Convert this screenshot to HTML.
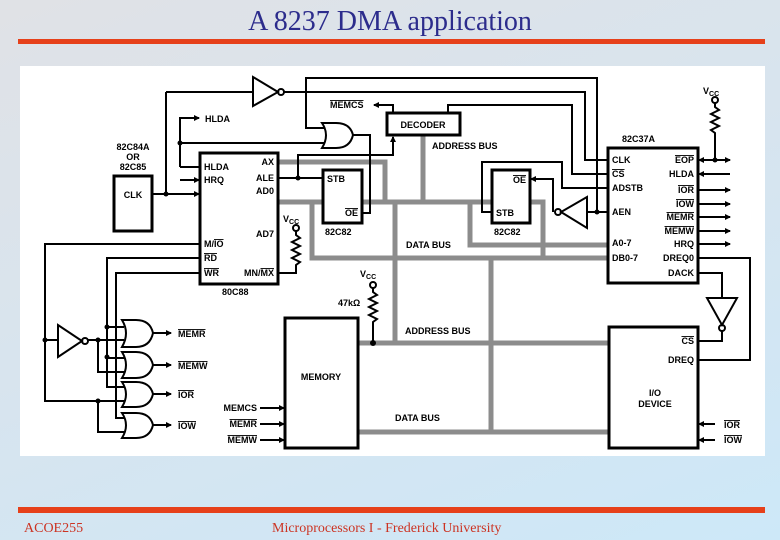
<!DOCTYPE html>
<html><head><meta charset="utf-8"><style>
html,body{margin:0;padding:0}
body{width:780px;height:540px;overflow:hidden;background:linear-gradient(160deg,#e0e2e6 0%,#d8e4ee 45%,#cde8f8 100%);position:relative;font-family:"Liberation Serif",serif}
.t{position:absolute;left:0;width:780px;top:6px;text-align:center;font-size:28px;line-height:32px;color:#2c2c8c}
.bar{position:absolute;background:#e6401a;left:18px;width:747px}
.f{position:absolute;top:521px;font-size:14px;color:#cc3322}
svg{position:absolute;left:0;top:0}
text{font-family:"Liberation Sans",sans-serif;font-weight:bold;font-size:9px;fill:#000}
.ov{text-decoration:overline}
</style></head><body>
<div class="t">A 8237 DMA application</div>
<div class="bar" style="top:39px;height:5px"></div>
<div class="bar" style="top:507px;height:6px"></div>
<div class="f" style="left:24px">ACOE255</div>
<div class="f" style="left:272px">Microprocessors I - Frederick University</div>
<svg width="780" height="540" viewBox="0 0 780 540">
<defs><marker id="a" markerWidth="6" markerHeight="6" refX="5" refY="3" orient="auto" markerUnits="userSpaceOnUse"><path d="M0,0 L6,3 L0,6 Z" fill="#000"/></marker></defs>
<rect x="20" y="66" width="745" height="390" fill="#fff"/>
<g fill="none" stroke="#8c8c8c" stroke-width="5">
<path d="M278,162 H385 V202"/><path d="M278,202 H543 V258"/><path d="M312,202 V258 H608"/>
<path d="M395,202 V343"/><path d="M423,135 V202"/><path d="M470,202 V245 H608"/>
<path d="M358,343 H608"/><path d="M491,258 V432"/><path d="M358,432 H608"/>
</g>
<g fill="none" stroke="#000" stroke-width="2">
<path d="M166,92 H253"/><path d="M166,92 V194"/><path d="M152,194 H199" marker-end="url(#a)"/>
<path d="M284,92 H585 V160 H608"/>
<path d="M325,128 H306 V78 H597 V212"/>
<path d="M448,113 V105 H572 V174 H608"/>
<path d="M393,113 V105 H374" marker-end="url(#a)"/>
<path d="M278,178 H323"/><path d="M298,178 V155 H393 V137" marker-end="url(#a)"/>
<path d="M180,167 V118 H199" marker-end="url(#a)"/><path d="M180,167 H200"/><path d="M180,143 H326"/>
<path d="M180,180 H199" marker-end="url(#a)"/>
<path d="M353,135 H370 V213 H362"/>
<path d="M492,212 H482 V162 H562 V188 H608"/>
<path d="M553,212 V179 H531" marker-end="url(#a)"/>
<path d="M587,212 H608"/>
<path d="M296,231 V235 l4,3 -8,4 8,4 -8,4 8,4 -8,4 8,4 -4,3 V273 H278"/>
<path d="M373,288 V292 l4,3 -8,4 8,4 -8,4 8,4 -8,4 8,4 -4,3 V343"/>
<path d="M715,103 V107 l4,3 -8,4 8,4 -8,4 8,4 -8,4 4,3 V160"/>
<path d="M710,160 H730" marker-end="url(#a)"/><path d="M715,160 H699" marker-end="url(#a)"/>
<path d="M730,174 H699" marker-end="url(#a)"/>
<path d="M698,190 H730" marker-end="url(#a)"/><path d="M698,204 H730" marker-end="url(#a)"/>
<path d="M698,217 H730" marker-end="url(#a)"/><path d="M698,231 H730" marker-end="url(#a)"/>
<path d="M698,244 H730" marker-end="url(#a)"/>
<path d="M698,258 H750 V360 H698"/>
<path d="M698,273 H722 V298"/><path d="M722,331 V341 H698"/>
<path d="M715,424 H699" marker-end="url(#a)"/><path d="M715,440 H699" marker-end="url(#a)"/>
<path d="M260,408 H284" marker-end="url(#a)"/><path d="M260,424 H284" marker-end="url(#a)"/><path d="M260,440 H284" marker-end="url(#a)"/>
<path d="M200,244 H45 V401 H124"/><path d="M45,340 H58"/>
<path d="M88,340 H124"/><path d="M98,340 V372 H124"/><path d="M98,401 V432 H124"/>
<path d="M200,258 H107 V387 H124"/><path d="M107,327 H124"/><path d="M107,358 H124"/>
<path d="M200,273 H116 V418 H124"/>
<path d="M153,333 H171" marker-end="url(#a)"/><path d="M153,365 H171" marker-end="url(#a)"/>
<path d="M153,394 H171" marker-end="url(#a)"/><path d="M153,425 H171" marker-end="url(#a)"/>
<path d="M253,77 L253,106 L278,92 Z"/><circle cx="281" cy="92" r="3"/>
<path d="M587,197 L587,228 L561,212 Z"/><circle cx="558" cy="212" r="3"/>
<path d="M707,298 L737,298 L722,325 Z"/><circle cx="722" cy="328" r="3"/>
<path d="M58,325 L58,357 L82,341 Z"/><circle cx="85" cy="341" r="3"/>
<path d="M322,123 L336,123 Q350,123 353,135 Q350,148 336,148 L322,148 Q330,135 322,123 Z" fill="#fff"/>
<path d="M122,320 L136,320 Q150,320 153,333 Q150,347 136,347 L122,347 Q130,333 122,320 Z" fill="#fff"/>
<path d="M122,352 L136,352 Q150,352 153,365 Q150,378 136,378 L122,378 Q130,365 122,352 Z" fill="#fff"/>
<path d="M122,382 L136,382 Q150,382 153,394 Q150,407 136,407 L122,407 Q130,394 122,382 Z" fill="#fff"/>
<path d="M122,413 L136,413 Q150,413 153,425 Q150,438 136,438 L122,438 Q130,425 122,413 Z" fill="#fff"/>
<circle cx="296" cy="228" r="3" fill="#fff"/><circle cx="373" cy="285" r="3" fill="#fff"/><circle cx="715" cy="100" r="3" fill="#fff"/>
</g>
<g fill="#000">
<circle cx="166" cy="194" r="2.5"/><circle cx="180" cy="143" r="2.5"/><circle cx="298" cy="178" r="2.5"/>
<circle cx="597" cy="212" r="2.5"/><circle cx="715" cy="160" r="2.5"/><circle cx="373" cy="343" r="3"/>
<circle cx="45" cy="340" r="2.5"/><circle cx="98" cy="340" r="2.5"/><circle cx="98" cy="401" r="2.5"/>
<circle cx="107" cy="327" r="2.5"/><circle cx="107" cy="357" r="2.5"/>
<circle cx="265" cy="203" r="1.5"/><circle cx="265" cy="211" r="1.5"/><circle cx="265" cy="219" r="1.5"/>
</g>
<g fill="#fff" stroke="#000" stroke-width="3">
<rect x="200" y="153" width="78" height="131"/>
<rect x="114" y="176" width="38" height="55"/>
<rect x="387" y="113" width="73" height="22"/>
<rect x="323" y="170" width="39" height="53"/>
<rect x="492" y="170" width="38" height="53"/>
<rect x="608" y="148" width="90" height="135"/>
<rect x="285" y="318" width="73" height="130"/>
<rect x="609" y="327" width="89" height="121"/>
</g>
<text x="133" y="150" text-anchor="middle">82C84A</text>
<text x="133" y="160" text-anchor="middle">OR</text>
<text x="133" y="170" text-anchor="middle">82C85</text>
<text x="133" y="198" text-anchor="middle">CLK</text>
<text x="205" y="122">HLDA</text>
<text x="330" y="108"><tspan class="ov">MEMCS</tspan></text>
<text x="423" y="128" text-anchor="middle">DECODER</text>
<text x="432" y="149">ADDRESS BUS</text>
<text x="204" y="170">HLDA</text><text x="204" y="183">HRQ</text>
<text x="274" y="165" text-anchor="end">AX</text><text x="274" y="181" text-anchor="end">ALE</text>
<text x="274" y="194" text-anchor="end">AD0</text><text x="274" y="237" text-anchor="end">AD7</text>
<text x="204" y="247">M/<tspan class="ov">IO</tspan></text>
<text x="204" y="261"><tspan class="ov">RD</tspan></text>
<text x="204" y="276"><tspan class="ov">WR</tspan></text>
<text x="274" y="276" text-anchor="end">MN/<tspan class="ov">MX</tspan></text>
<text x="222" y="295">80C88</text>
<text x="327" y="182">STB</text><text x="358" y="216" text-anchor="end"><tspan class="ov">OE</tspan></text>
<text x="325" y="235">82C82</text>
<text x="526" y="183" text-anchor="end"><tspan class="ov">OE</tspan></text><text x="496" y="216">STB</text>
<text x="494" y="235">82C82</text>
<text x="283" y="222">V<tspan font-size="7" dy="2">CC</tspan></text>
<text x="360" y="277">V<tspan font-size="7" dy="2">CC</tspan></text>
<text x="703" y="94">V<tspan font-size="7" dy="2">CC</tspan></text>
<text x="338" y="306" font-weight="normal">47kΩ</text>
<text x="406" y="248">DATA BUS</text>
<text x="405" y="334">ADDRESS BUS</text>
<text x="395" y="421">DATA BUS</text>
<text x="622" y="142">82C37A</text>
<text x="612" y="163">CLK</text><text x="612" y="177"><tspan class="ov">CS</tspan></text>
<text x="612" y="191">ADSTB</text><text x="612" y="215">AEN</text>
<text x="612" y="246">A0-7</text><text x="612" y="261">DB0-7</text>
<text x="694" y="163" text-anchor="end"><tspan class="ov">EOP</tspan></text>
<text x="694" y="177" text-anchor="end">HLDA</text>
<text x="694" y="193" text-anchor="end"><tspan class="ov">IOR</tspan></text>
<text x="694" y="207" text-anchor="end"><tspan class="ov">IOW</tspan></text>
<text x="694" y="220" text-anchor="end"><tspan class="ov">MEMR</tspan></text>
<text x="694" y="234" text-anchor="end"><tspan class="ov">MEMW</tspan></text>
<text x="694" y="247" text-anchor="end">HRQ</text>
<text x="694" y="261" text-anchor="end">DREQ0</text>
<text x="694" y="276" text-anchor="end">DACK</text>
<text x="321" y="380" text-anchor="middle">MEMORY</text>
<text x="257" y="411" text-anchor="end">MEMCS</text>
<text x="257" y="427" text-anchor="end"><tspan class="ov">MEMR</tspan></text>
<text x="257" y="443" text-anchor="end"><tspan class="ov">MEMW</tspan></text>
<text x="694" y="344" text-anchor="end"><tspan class="ov">CS</tspan></text>
<text x="694" y="363" text-anchor="end">DREQ</text>
<text x="655" y="396" text-anchor="middle">I/O</text>
<text x="655" y="407" text-anchor="middle">DEVICE</text>
<text x="724" y="428"><tspan class="ov">IOR</tspan></text>
<text x="724" y="443"><tspan class="ov">IOW</tspan></text>
<text x="178" y="337"><tspan class="ov">MEMR</tspan></text>
<text x="178" y="369"><tspan class="ov">MEMW</tspan></text>
<text x="178" y="398"><tspan class="ov">IOR</tspan></text>
<text x="178" y="429"><tspan class="ov">IOW</tspan></text>
</svg>
</body></html>
